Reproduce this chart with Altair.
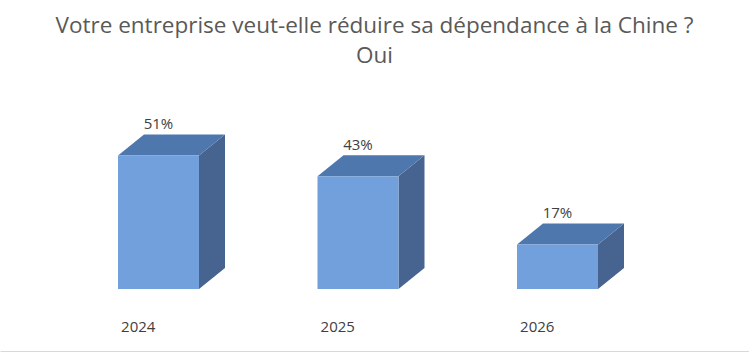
import altair as alt
import pandas as pd

# ---- data ----
years = ["2024", "2025", "2026"]
values = [51, 43, 17]
label_texts = ["51%", "43%", "17%"]
title_lines = ["Votre entreprise veut-elle réduire sa dépendance à la Chine ?", "Oui"]

# ---- geometry (style) ----
W, H = 749, 352
PAD_TOP, PAD_BOTTOM = 70, 1
PLOT_H = H - PAD_TOP - PAD_BOTTOM
STEP_PX = 199.5          # distance between bar centres
FIRST_PX = 158.5         # centre of first bar
BAR_PX = 81              # front face width
DEPTH_X_PX, DEPTH_Y_PX = 26, 21
UNIT_PX = 2.62           # pixels per percentage point
ZERO_PX = 289 - PAD_TOP  # baseline within plot

x_dom = [-FIRST_PX / STEP_PX, (W - FIRST_PX) / STEP_PX]
y_dom = [-(PLOT_H - ZERO_PX) / UNIT_PX, ZERO_PX / UNIT_PX]
hw = BAR_PX / 2 / STEP_PX
ddx = DEPTH_X_PX / STEP_PX
ddy = DEPTH_Y_PX / UNIT_PX

front_c, top_c, side_c = "#72a0dd", "#4e78ad", "#476490"

xs = alt.Scale(domain=x_dom, nice=False, zero=False)
ys = alt.Scale(domain=y_dom, nice=False, zero=False)

front = pd.DataFrame({
    "year": years,
    "x0": [i - hw for i in range(len(years))],
    "x1": [i + hw for i in range(len(years))],
    "y0": [0] * len(years),
    "y1": values,
})

side_rows, top_rows = [], []
for i, (yr, v) in enumerate(zip(years, values)):
    side_rows += [
        {"year": yr, "x": i + hw, "lo": 0, "hi": v},
        {"year": yr, "x": i + hw + ddx, "lo": ddy, "hi": v + ddy},
    ]
    top_rows += [
        {"year": yr, "x": i - hw, "lo": v, "hi": v},
        {"year": yr, "x": i - hw + ddx, "lo": v, "hi": v + ddy},
        {"year": yr, "x": i + hw, "lo": v, "hi": v + ddy},
        {"year": yr, "x": i + hw + ddx, "lo": v + ddy, "hi": v + ddy},
    ]
side = pd.DataFrame(side_rows)
top = pd.DataFrame(top_rows)

labels = pd.DataFrame({
    "x": list(range(len(years))),
    "y": [v + ddy for v in values],
    "t": label_texts,
})

# label expression: nearest index -> year text
label_expr = "'" + years[-1] + "'"
for i in range(len(years) - 2, -1, -1):
    label_expr = "datum.value < %g ? '%s' : (%s)" % (i + 0.5, years[i], label_expr)

x_axis = alt.Axis(
    values=[i - 0.19 for i in range(len(years))],
    labelExpr=label_expr, title=None, grid=False, ticks=False, tickSize=0,
    domainColor="#d9d9d9", domainWidth=1, labelAlign="left", labelBaseline="middle",
    labelPadding=-25, labelFont="Open Sans", labelFontSize=15, labelColor="#404040",
    labelOverlap=False, labelFlush=False,
)

X = lambda f: alt.X(f, scale=xs, axis=x_axis)
Y = lambda f: alt.Y(f, scale=ys, axis=None, stack=None)

front_layer = alt.Chart(front).mark_bar(color=front_c).encode(
    x=X("x0:Q"), x2="x1", y=Y("y0:Q"), y2="y1",
)
side_layer = alt.Chart(side).mark_area(color=side_c, interpolate="linear").encode(
    x=X("x:Q"), y=Y("lo:Q"), y2="hi", detail="year:N",
)
top_layer = alt.Chart(top).mark_area(color=top_c, interpolate="linear").encode(
    x=X("x:Q"), y=Y("lo:Q"), y2="hi", detail="year:N",
)
text_layer = alt.Chart(labels).mark_text(
    font="Open Sans", fontSize=15, color="#404040", baseline="alphabetic", dy=-5
).encode(x=X("x:Q"), y=Y("y:Q"), text="t:N")

chart = alt.layer(side_layer, top_layer, front_layer, text_layer).properties(
    width=W, height=PLOT_H,
    autosize=alt.AutoSizeParams(type="none"),
    padding={"left": 0, "right": 0, "top": PAD_TOP, "bottom": PAD_BOTTOM},
    background="white",
    title=alt.TitleParams(
        text=title_lines, font="Open Sans", fontSize=22.5, fontWeight="normal",
        color="#595959", anchor="middle", lineHeight=30, offset=3,
    ),
).configure_view(stroke=None)

chart.save("out.html", embed_options={"renderer": "svg", "actions": False})
